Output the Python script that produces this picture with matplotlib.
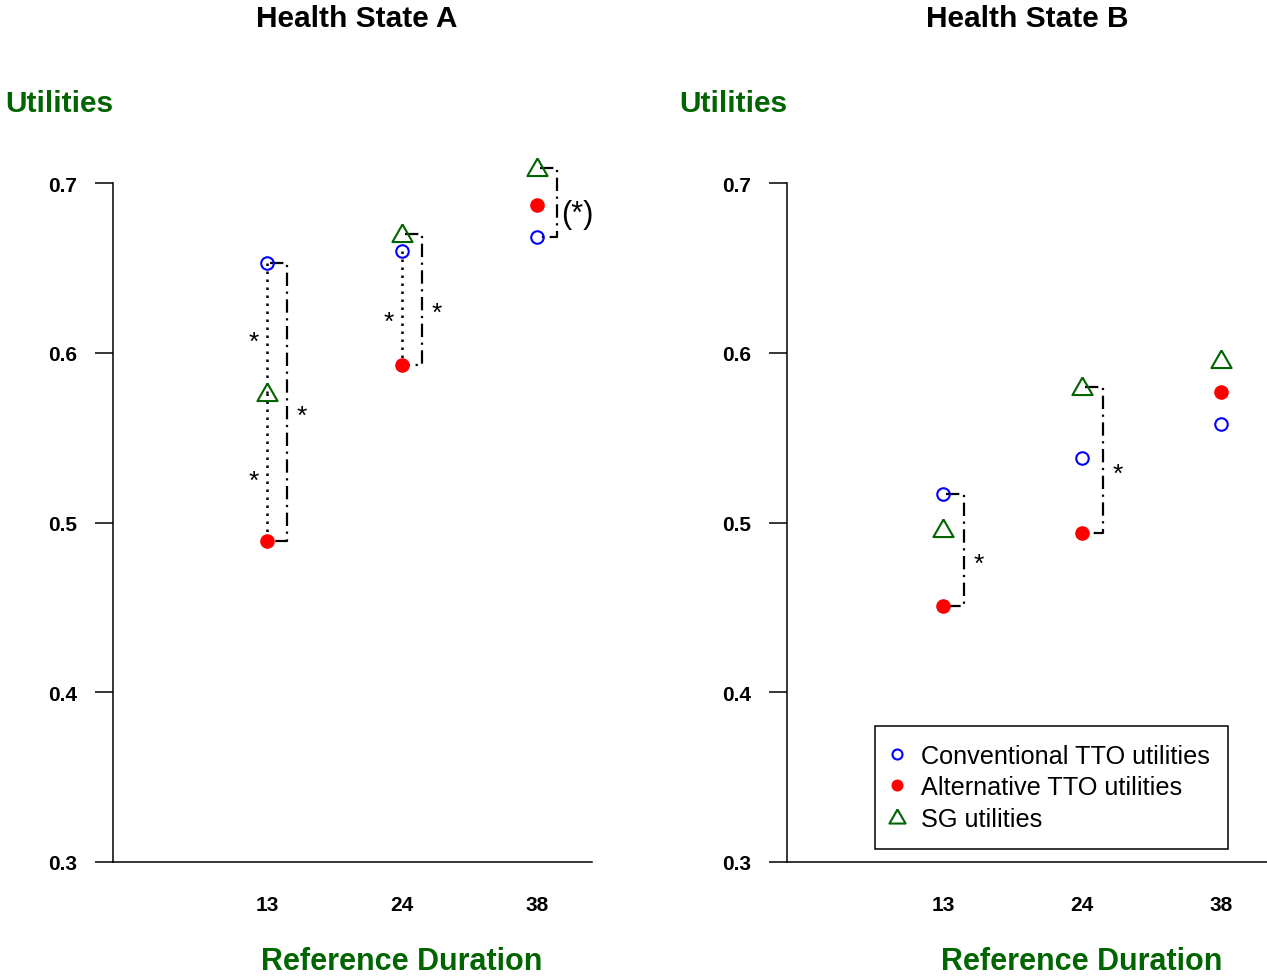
import matplotlib
matplotlib.use('Agg')
import matplotlib.pyplot as plt
import matplotlib.transforms as mtransforms
from matplotlib.lines import Line2D

plt.rcParams['font.family'] = ['Liberation Sans', 'DejaVu Sans']

durations = ['13', '24', '38']

# Health State A
a_conventional = [0.653, 0.660, 0.668]
a_alternative = [0.489, 0.593, 0.687]
a_sg = [0.576, 0.670, 0.709]

# Health State B
b_conventional = [0.517, 0.538, 0.558]
b_alternative = [0.451, 0.494, 0.577]
b_sg = [0.496, 0.580, 0.596]

# significance marks: (duration index, from, to, label)
a_dotted = [(0, 'conv', 'sg', '*'), (0, 'sg', 'alt', '*'), (1, 'conv', 'alt', '*')]
a_brackets = [(0, 'conv', 'alt', '*'), (1, 'sg', 'alt', '*'), (2, 'sg', 'conv', '(*)')]
b_dotted = []
b_brackets = [(0, 'conv', 'alt', '*'), (1, 'sg', 'alt', '*')]

legend_labels = ['Conventional TTO utilities', 'Alternative TTO utilities', 'SG utilities']

W, H = 1267, 978
BLUE, RED, GREEN = '#0000ff', '#ff0000', '#006400'
TRI = [(0, 1), (-1, -0.75), (1, -0.75), (0, 1)]

conv_style = dict(ls='none', marker='o', mfc='none', mec=BLUE, ms=9, mew=1.5)
alt_style = dict(ls='none', marker='o', mfc=RED, mec=RED, ms=9.5, mew=1)
sg_style = dict(ls='none', marker=TRI, mfc='none', mec=GREEN, ms=14.5, mew=1.5)

fig = plt.figure(figsize=(W / 100, H / 100), dpi=100)


def star(ax, lab, x, y):
    # place the ink centre of the label near y
    if lab == '*':
        fs, off = 19, -(4 + 0.58 * 19)
    else:
        fs, off = 22, -(8 + 0.26 * 22)
    ax.annotate(lab, (x, y), xytext=(0, off), textcoords='offset points',
                ha='center', va='baseline', fontsize=fs)


def panel(left, right, xlim, line_end, title_x, title, conv, alt, sg, dotted, brackets):
    ax = fig.add_axes([left / W, (H - 863) / H, (right - left) / W, (863 - 140) / H])
    ax.set_xlim(*xlim)
    ax.set_ylim(0.3, 0.3 + 723 / 1697.5)
    x = [1, 2, 3]
    vals = {'conv': conv, 'alt': alt, 'sg': sg}

    for i, a, b, lab in dotted:
        ax.plot([x[i], x[i]], [vals[a][i], vals[b][i]], color='black', lw=1.8,
                ls=(0, (1, 2.2)), zorder=1)
        star(ax, lab, x[i] - 0.097, (vals[a][i] + vals[b][i]) / 2)

    for i, a, b, lab in brackets:
        xb = x[i] + 0.15
        ax.plot([x[i] + 0.02, xb, xb, x[i] + 0.02],
                [vals[a][i], vals[a][i], vals[b][i], vals[b][i]],
                color='black', lw=1.6, ls=(0, (6, 2.5, 1, 2.5)), zorder=1)
        dx = 0.26 if lab == '*' else 0.30
        star(ax, lab, x[i] + dx, (vals[a][i] + vals[b][i]) / 2)

    ax.plot(x, conv, zorder=3, **conv_style)
    ax.plot(x, alt, zorder=3, **alt_style)
    ax.plot(x, sg, zorder=3, **sg_style)

    ax.spines[['top', 'right']].set_visible(False)
    ax.spines['left'].set_bounds(0.3, 0.7)
    ax.spines['bottom'].set_bounds(xlim[0], line_end)
    for s in ('left', 'bottom'):
        ax.spines[s].set_linewidth(1.1)

    yt = [0.3, 0.4, 0.5, 0.6, 0.7]
    ax.set_yticks(yt, [f'{v:.1f}' for v in yt], fontweight='bold', fontsize=15)
    ax.tick_params(axis='y', length=13, width=1.1, pad=13)
    ax.set_xticks(x, durations, fontweight='bold', fontsize=15)
    ax.tick_params(axis='x', length=0, pad=24)

    fig.text(title_x / W, 1 - 19 / H, title, ha='center', va='center',
             fontsize=21.5, fontweight='bold')
    fig.text(left / W, 1 - 104 / H, 'Utilities', ha='right', va='center',
             fontsize=21.5, fontweight='bold', color=GREEN)
    tr = mtransforms.blended_transform_factory(ax.transData, fig.transFigure)
    ax.text(2, 1 - 962 / H, 'Reference Duration', transform=tr, ha='center',
            va='center', fontsize=22, fontweight='bold', color=GREEN)
    return ax


panel(113, 592, (1 - 154 / 135, 3 + 55 / 135), 3 + 55 / 135, 357, 'Health State A',
      a_conventional, a_alternative, a_sg, a_dotted, a_brackets)
ax_b = panel(787, 1267, (1 - 156 / 139, 3 + 46 / 139), 3 + 46 / 139, 1027, 'Health State B',
             b_conventional, b_alternative, b_sg, b_dotted, b_brackets)

handles = [Line2D([], [], **conv_style), Line2D([], [], **alt_style),
           Line2D([], [], **sg_style)]
leg = ax_b.legend(handles, legend_labels, loc='upper left',
                  bbox_to_anchor=(875 / W, 1 - 727 / H), bbox_transform=fig.transFigure,
                  borderaxespad=0, fontsize=18.2, frameon=True, fancybox=False,
                  edgecolor='black', framealpha=1, borderpad=0.7, handlelength=0.36,
                  handletextpad=0.76, labelspacing=0.3, markerscale=0.8)
leg.get_frame().set_linewidth(1.1)

fig.savefig('out.png', dpi=100)
